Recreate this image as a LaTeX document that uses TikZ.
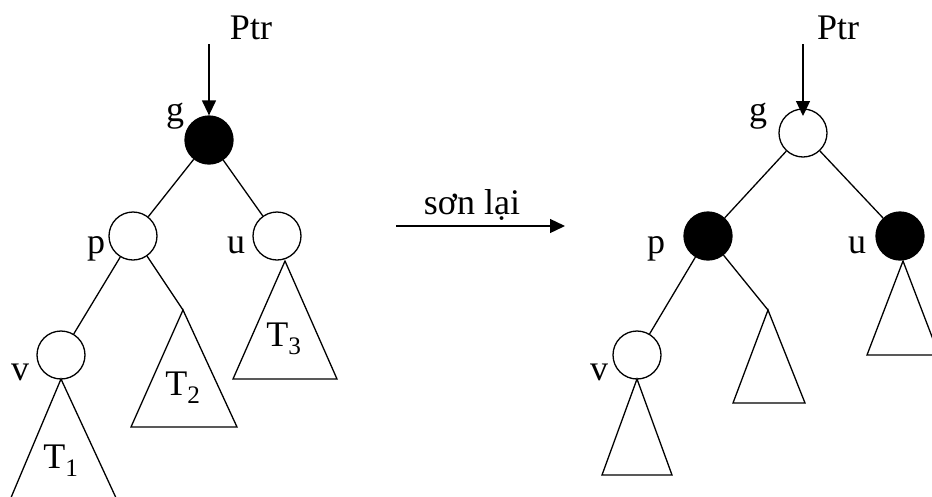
\documentclass[tikz,border=0pt]{standalone}
\usepackage{fontspec}
\setmainfont{Liberation Serif}
\usetikzlibrary{arrows.meta}
\begin{document}
\begin{tikzpicture}[x=1pt,y=-1pt,
  line width=1.3pt,
  treenode/.style={circle,draw,minimum size=48pt,inner sep=0pt},
  blacknode/.style={treenode,fill=black},
  lbl/.style={anchor=base,inner sep=0pt,font=\fontsize{36}{40}\selectfont},
  ptrarrow/.style={-{Triangle[length=15pt,width=14pt]}},
  edge/.style={draw}]
\useasboundingbox (0,0) rectangle (932,496);
\clip (0,0) rectangle (932,496);
% ---------- left tree ----------
\node[lbl] (lptr) at (251,39) {Ptr};
\coordinate (lptrs) at (209,44);
\node[blacknode] (lg) at (209,140) {};
\node[treenode] (lp) at (133,236) {};
\node[treenode] (lu) at (277,236) {};
\node[treenode] (lv) at (61,355) {};
\node[lbl] (lgl) at (175,121) {g};
\node[lbl] (lpl) at (96,253) {p};
\node[lbl] (lul) at (236,253) {u};
\node[lbl] (lvl) at (20,380) {v};
\draw[ptrarrow] (lptrs) -- (lg.north);
\draw (lg) -- (lp);
\draw (lg) -- (lu);
\draw (lp) -- (lv);
\coordinate (lt2) at (183,310);
\coordinate (lt3) at (285,261);
\coordinate (lt1) at (61,379);
\draw (lp.-55) -- (lt2);
\draw (lt2) -- (131,427) -- (237,427) -- cycle;
\draw (lt3) -- (233,379) -- (337,379) -- cycle;
\draw (10,500) -- (lt1) -- (117,500);
\node[lbl] (T2) at (183,395) {T\textsubscript{2}};
\node[lbl] (T3) at (284,346) {T\textsubscript{3}};
\node[lbl] (T1) at (61,468) {T\textsubscript{1}};
% ---------- middle arrow ----------
\coordinate (ma) at (396,226);
\coordinate (mb) at (565,226);
\draw[ptrarrow] (ma) -- (mb);
\node[lbl] (son) at (472,214) {sơn lại};
% ---------- right tree ----------
\node[lbl] (rptr) at (838,39) {Ptr};
\coordinate (rptrs) at (803,44);
\coordinate (rtip) at (803,116);
\node[treenode] (rg) at (803,133) {};
\node[blacknode] (rp) at (708,236) {};
\node[blacknode] (ru) at (900,236) {};
\node[treenode] (rv) at (637,355) {};
\node[lbl] (rgl) at (758,121) {g};
\node[lbl] (rpl) at (656,253) {p};
\node[lbl] (rul) at (857,253) {u};
\node[lbl] (rvl) at (599,380) {v};
\draw[ptrarrow] (rptrs) -- (rtip);
\draw (rg) -- (rp);
\draw (rg) -- (ru);
\draw (rp) -- (rv);
\coordinate (rt2) at (768,310);
\coordinate (rt3) at (903,261);
\coordinate (rt1) at (637,379);
\draw (rp) -- (rt2);
\draw (rt2) -- (733,403) -- (805,403) -- cycle;
\draw (rt3) -- (867,355) -- (939,355) -- cycle;
\draw (rt1) -- (602,475) -- (672,475) -- cycle;
\end{tikzpicture}
\end{document}
